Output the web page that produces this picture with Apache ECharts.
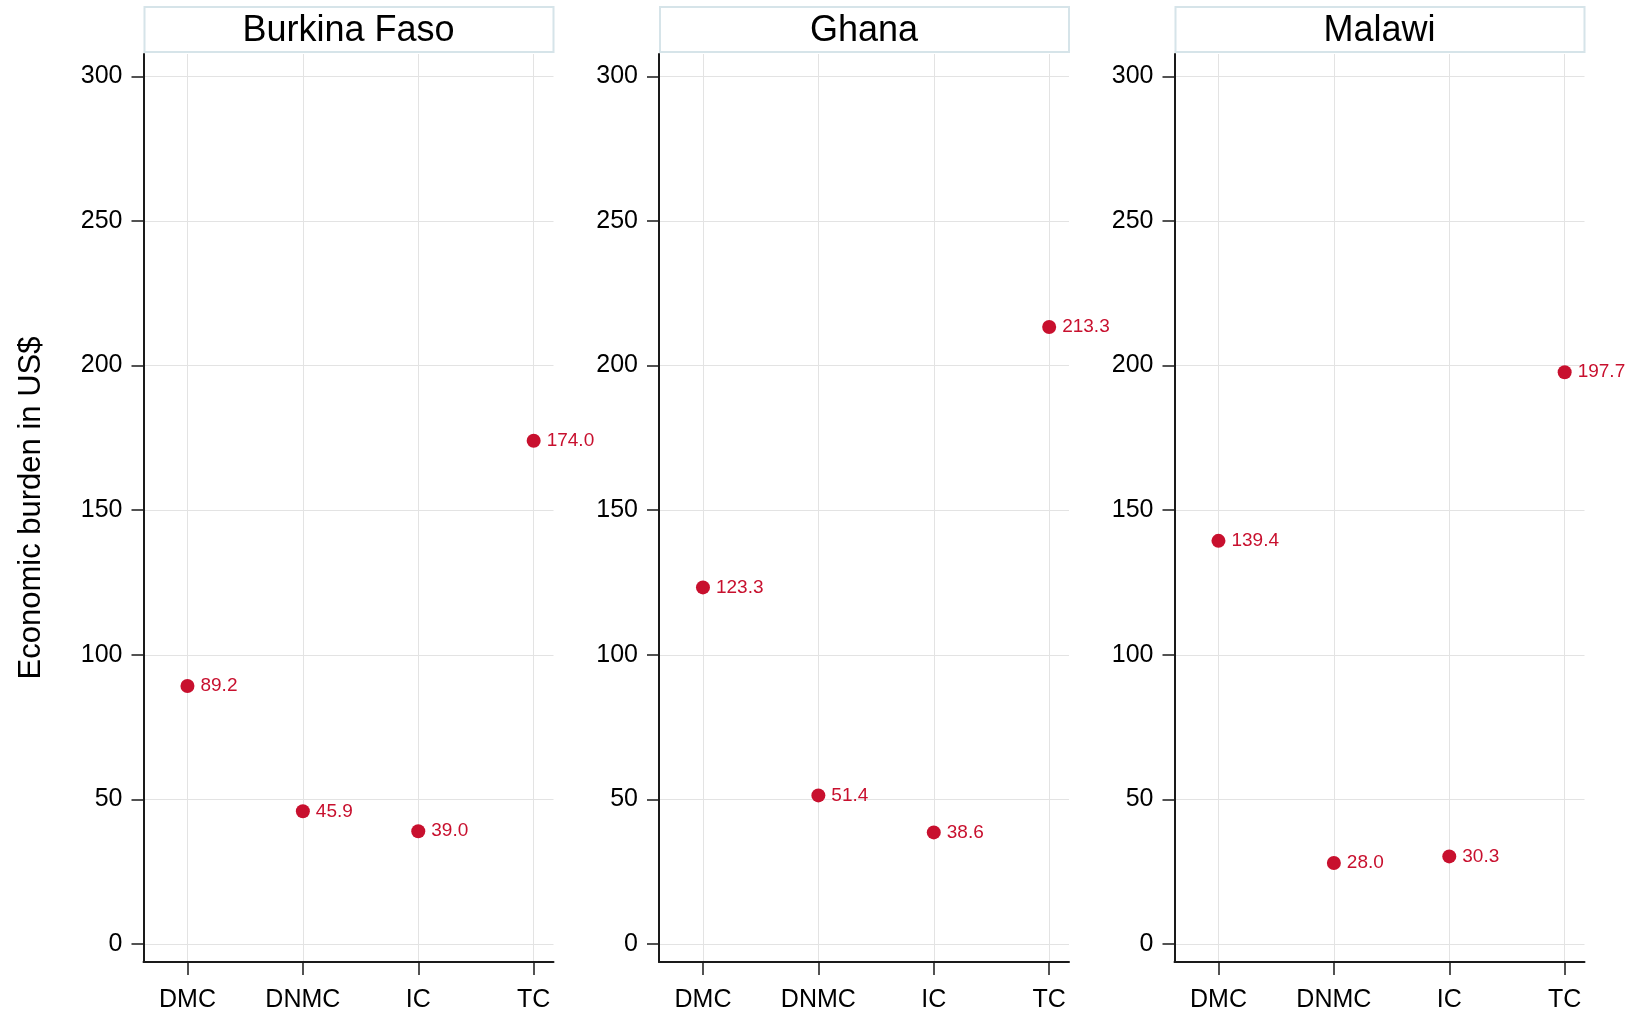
<!DOCTYPE html>
<html>
<head>
<meta charset="utf-8">
<title>Economic burden by cost type</title>
<script src="https://cdn.jsdelivr.net/npm/echarts@6/dist/echarts.min.js"></script>
<style>
  html, body { margin: 0; padding: 0; background: #fff; }
  #chart { width: 1631px; height: 1013px; }
</style>
</head>
<body>
<div id="chart"></div>
<script>
// Cost types shown on the x axis of each panel
const categories = ['DMC', 'DNMC', 'IC', 'TC'];
// Panel titles
const countries = ['Burkina Faso', 'Ghana', 'Malawi'];
// Economic burden (US$) per cost type
const burkinaFaso = [89.2, 45.9, 39.0, 174.0];
const ghana = [123.3, 51.4, 38.6, 213.3];
const malawi = [139.4, 28.0, 30.3, 197.7];
// Y axis tick values
const yTicks = [0, 50, 100, 150, 200, 250, 300];

const countryValues = [burkinaFaso, ghana, malawi];

const FONT = "'Liberation Sans', Arial, Helvetica, sans-serif";
const RED = '#c8102e';
const AXIS = '#1a1a1a';
const GRID = '#e3e3e3';

// panel geometry
const panelLeft = [143.5, 659, 1174.5];
const panelWidth = 410;
const plotTop = 54;
const plotHeight = 909;
const xPos = categories.map((_, i) => i + 1);

const grids = [], xAxes = [], yAxes = [], series = [], graphics = [];

countries.forEach((name, p) => {
  grids.push({ left: panelLeft[p], top: plotTop, width: panelWidth, height: plotHeight, containLabel: false });

  xAxes.push({
    gridIndex: p,
    type: 'value',
    min: 0.619,
    max: 0.619 + panelWidth / 115.4,
    axisLine: { show: true, onZero: false, lineStyle: { color: AXIS, width: 2 } },
    axisTick: { show: true, length: 13, customValues: xPos, lineStyle: { color: AXIS, width: 1.5 } },
    axisLabel: {
      customValues: xPos,
      margin: 26,
      fontFamily: FONT, fontSize: 25, color: '#000',
      formatter: v => categories[Math.round(v) - 1] || ''
    },
    splitLine: { show: true, lineStyle: { color: GRID, width: 1 } }
  });

  yAxes.push({
    gridIndex: p,
    type: 'value',
    min: -6.2,
    max: 307.7,
    name: p === 0 ? 'Economic burden in US$' : '',
    nameLocation: 'middle',
    nameRotate: 90,
    nameGap: 97,
    nameTextStyle: { fontFamily: FONT, fontSize: 31, color: '#000' },
    axisLine: { show: true, onZero: false, lineStyle: { color: AXIS, width: 2 } },
    axisTick: { show: true, length: 12, customValues: yTicks, lineStyle: { color: AXIS, width: 1.5 } },
    axisLabel: { customValues: yTicks, margin: 21, fontFamily: FONT, fontSize: 25, color: '#000' },
    splitLine: { show: true, lineStyle: { color: GRID, width: 1 } }
  });

  series.push({
    type: 'scatter',
    xAxisIndex: p,
    yAxisIndex: p,
    symbol: 'circle',
    symbolSize: 14,
    itemStyle: { color: RED, opacity: 1 },
    clip: false,
    label: {
      show: true,
      position: 'right',
      distance: 6,
      fontFamily: FONT,
      fontSize: 19,
      color: RED,
      formatter: d => d.value[1].toFixed(1)
    },
    data: countryValues[p].map((v, i) => [xPos[i], v])
  });

  // panel header strip
  graphics.push({
    type: 'group',
    children: [
      {
        type: 'rect',
        shape: { x: panelLeft[p] + 1, y: 7, width: panelWidth - 1, height: 45 },
        style: { fill: '#fff', stroke: '#d6e4e9', lineWidth: 2 }
      },
      {
        type: 'text',
        style: {
          text: name,
          x: panelLeft[p] + panelWidth / 2,
          y: 31,
          align: 'center',
          verticalAlign: 'middle',
          font: '36px ' + FONT,
          fill: '#000'
        }
      }
    ]
  });
});

const chart = echarts.init(document.getElementById('chart'), null, { renderer: 'canvas' });
chart.setOption({
  backgroundColor: '#fff',
  animation: false,
  grid: grids,
  xAxis: xAxes,
  yAxis: yAxes,
  series: series,
  graphic: graphics
});
</script>
</body>
</html>
